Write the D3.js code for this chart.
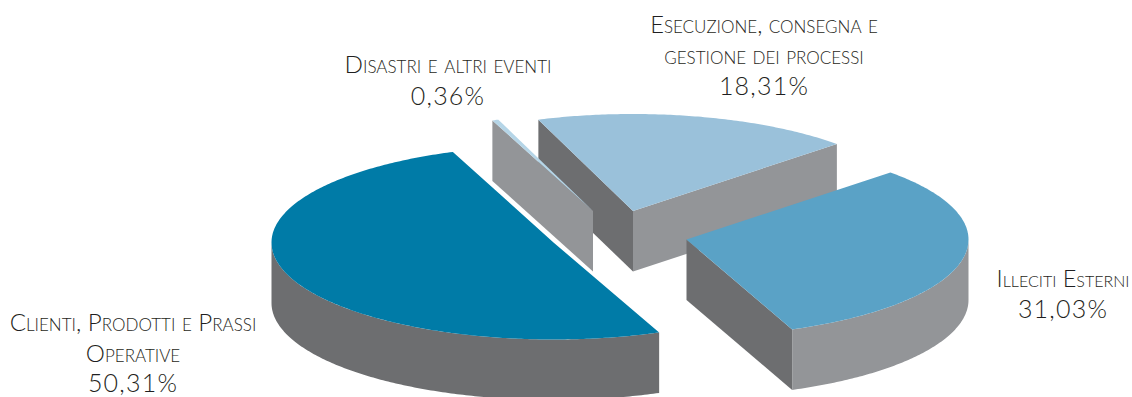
<!DOCTYPE html>
<html lang="it">
<head>
<meta charset="utf-8">
<script src="https://cdnjs.cloudflare.com/ajax/libs/d3/7.8.5/d3.min.js"></script>
<style>
  html, body { margin: 0; padding: 0; background: #fff; }
  svg { display: block; }
  text { font-family: Lato, "Open Sans", sans-serif; font-weight: 300; fill: #1f1f21; text-anchor: middle; }
  .name { font-variant: small-caps; }
</style>
</head>
<body>
<div id="chart"></div>
<script>
// Loss share by operational event type, in clockwise pie order
const categories = ["Illeciti Esterni", "Clienti, Prodotti e Prassi Operative", "Disastri e altri eventi", "Esecuzione, consegna e gestione dei processi"];
const shares = [31.03, 50.31, 0.36, 18.31];
const nameLines = [
  ["Illeciti Esterni"],
  ["Clienti, Prodotti e Prassi", "Operative"],
  ["Disastri e altri eventi"],
  ["Esecuzione, consegna e", "gestione dei processi"]
];

const width = 1132, height = 397;
const radiusX = 282, radiusY = 97, wallDepth = 60.5;
const firstAngle = 46.3 * Math.PI / 180;
const tau = 2 * Math.PI;

// Where each exploded wedge sits, and how it is painted
const wedgeStyle = [
  { cx: 686.5, cy: 239.5, top: "#5aa2c6", arcWall: "#939598", startFace: null, endFace: "#6d6e70", order: 2,
    label: { x: 1063, y: 287, step: 31, size: 23.5 } },
  { cx: 553.5, cy: 242.5, top: "#007ba7", arcWall: "#6d6e70", startFace: null, endFace: null, order: 3,
    label: { x: 133, y: 331, step: 30.5, size: 24.2 } },
  { cx: 593, cy: 211, top: "#b5d5e7", arcWall: "#939598", startFace: "#939598", endFace: null, order: 1,
    label: { x: 448, y: 73, step: 32, size: 24.3 } },
  { cx: 633, cy: 211, top: "#9ac1da", arcWall: "#939598", startFace: "#6d6e70", endFace: "#939598", order: 0,
    label: { x: 764, y: 33, step: 31, size: 23.7 } }
];

const percent = d3.formatLocale({ decimal: ",", thousands: ".", grouping: [3], currency: ["", "€"] }).format(".2f");

const pie = d3.pie().value(d => d).sort(null).startAngle(firstAngle).endAngle(firstAngle + tau);
const wedges = pie(shares).map((w, i) => ({ ...w, style: wedgeStyle[i], name: nameLines[i], category: categories[i], share: shares[i] }));

// Angles run clockwise from twelve o'clock; the disc is flattened into an ellipse
const project = (s, a, drop = 0) => [
  s.cx + radiusX * Math.sin(a),
  s.cy - radiusY * Math.cos(a) + drop
];
const line = d3.line();
const sweep = (a0, a1) => {
  const n = Math.max(2, Math.ceil(Math.abs(a1 - a0) * 90));
  return d3.range(n + 1).map(k => a0 + (a1 - a0) * k / n);
};

const svg = d3.select("#chart").append("svg").attr("width", width).attr("height", height);

const groups = svg.selectAll("g.wedge")
  .data(wedges.slice().sort((a, b) => a.style.order - b.style.order))
  .join("g").attr("class", "wedge");

groups.each(function (d) {
  const g = d3.select(this), s = d.style;
  const centre = [s.cx, s.cy], centreLow = [s.cx, s.cy + wallDepth];

  // Radial faces: straight walls dropping from a wedge edge
  const face = (a, fill) => {
    if (!fill) return;
    const rim = project(s, a);
    g.append("path").attr("fill", fill).attr("d", line([centre, rim, [rim[0], rim[1] + wallDepth], centreLow]) + "Z");
  };
  face(d.startAngle, s.startFace);
  face(d.endAngle, s.endFace);

  // Curved outer wall: only the part of the rim facing the viewer
  const visible = [];
  [0, tau].forEach(shift => {
    const a0 = Math.max(d.startAngle, Math.PI / 2 + shift);
    const a1 = Math.min(d.endAngle, 3 * Math.PI / 2 + shift);
    if (a1 > a0) visible.push([a0, a1]);
  });
  visible.forEach(([a0, a1]) => {
    const angles = sweep(a0, a1);
    const upper = angles.map(a => project(s, a));
    const lower = angles.map(a => project(s, a, wallDepth)).reverse();
    g.append("path").attr("fill", s.arcWall).attr("d", line(upper.concat(lower)) + "Z");
  });

  // Flat top of the wedge
  const rim = sweep(d.startAngle, d.endAngle).map(a => project(s, a));
  g.append("path")
    .attr("fill", s.top)
    .attr("d", line([centre, ...rim]) + "Z");
});

// Category names and their percentages
const labels = svg.selectAll("g.label").data(wedges).join("g").attr("class", "label");
labels.each(function (d) {
  const g = d3.select(this), l = d.style.label;
  d.name.forEach((txt, i) => {
    g.append("text").attr("class", "name")
      .attr("x", l.x).attr("y", l.y + i * l.step)
      .attr("font-size", l.size).text(txt);
  });
  g.append("text")
    .attr("x", l.x).attr("y", l.y + d.name.length * l.step)
    .attr("font-size", 25).attr("letter-spacing", 1.2).text(percent(d.share) + "%");
});
</script>
</body>
</html>
